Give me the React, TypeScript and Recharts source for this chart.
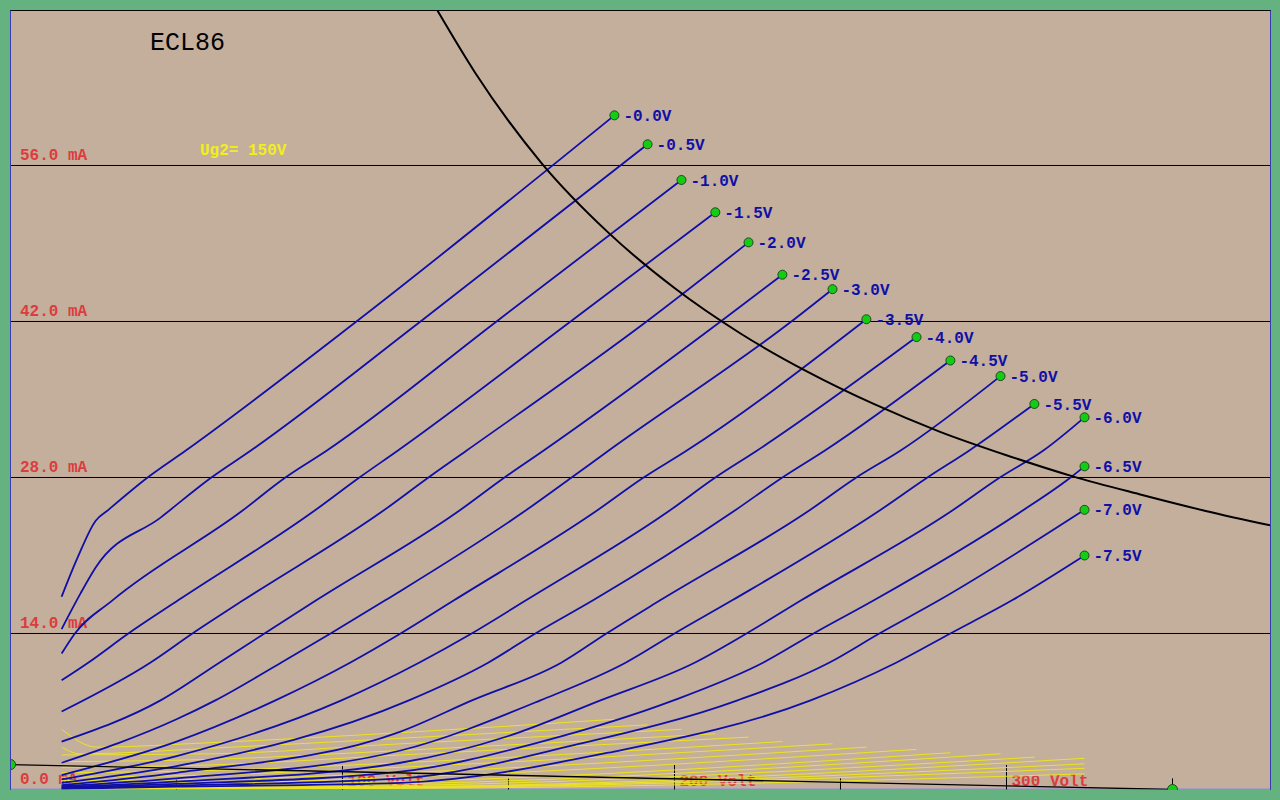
import React from 'react'
import { LineChart, Line, XAxis, YAxis, ReferenceLine, ReferenceDot } from 'recharts'

// grid voltage of each curve, top to bottom
const GRID_LABELS = [
  '-0.0V', '-0.5V', '-1.0V', '-1.5V', '-2.0V', '-2.5V', '-3.0V', '-3.5V',
  '-4.0V', '-4.5V', '-5.0V', '-5.5V', '-6.0V', '-6.5V', '-7.0V', '-7.5V',
]

// anode current curves: [Ua (V), Ia (mA)]
const IA_00 = [[15.4, 17.3], [20.2, 20.8], [25.6, 24.1], [29.5, 25.1], [41.3, 28], [52.7, 30.4], [104.2, 42], [181.9, 60.5]]
const IA_05 = [[15.4, 14.4], [21.1, 17.6], [25.6, 19.9], [45.2, 24.4], [60.5, 28], [72.3, 30.4], [123.5, 42], [191.9, 57.9]]
const IA_10 = [[15.4, 12.2], [19.4, 14], [30.8, 17], [69.3, 24.9], [82.8, 28], [95.2, 30.4], [146.4, 42], [202.1, 54.7]]
const IA_15 = [[15.4, 9.8], [23.5, 11.4], [35.5, 14], [50.6, 17], [91, 24.9], [105.1, 28], [116.6, 30.4], [168.7, 42], [212.3, 51.8]]
const IA_20 = [[15.4, 7.0], [42.2, 11.4], [54.8, 14], [70.2, 17], [111.7, 24.9], [125.9, 28], [137.3, 30.4], [191.6, 42], [222.3, 49.1]]
const IA_25 = [[15.4, 4.3], [45.2, 8], [63, 11.4], [76.5, 14], [92.2, 17], [134.6, 24.9], [148.8, 28], [160.5, 30.4], [213.9, 42], [232.5, 46.2]]
const IA_30 = [[15.4, 2.4], [50, 6.3], [61.7, 8], [81.6, 11.4], [96.4, 14], [113, 17], [154.5, 24.9], [169, 28], [180.1, 30.4], [235.2, 42], [247.6, 44.9]]
const IA_35 = [[15.4, 1.3], [50, 4.3], [79.8, 8], [102.4, 11.4], [117.5, 14], [133.7, 17], [176, 24.9], [190.7, 28], [203.6, 30.4], [257.8, 42.2]]
const IA_40 = [[15.4, 0.9], [50, 3.0], [99.7, 8], [123.2, 11.4], [138.9, 14], [155.4, 17], [197.9, 24.9], [212.3, 28], [224.8, 30.4], [272.9, 40.6]]
const IA_45 = [[15.4, 0.6], [50, 2.1], [120, 8], [144, 11.4], [158.1, 14], [175.6, 17], [217.5, 24.9], [232.5, 28], [245.2, 30.4], [283.1, 38.5]]
const IA_50 = [[15.4, 0.4], [50, 1.5], [117.5, 5.2], [139, 8], [166, 11.4], [179.5, 14], [195.8, 17], [239.9, 24.9], [254.8, 28], [268, 30.4], [298.2, 37.1]]
const IA_55 = [[15.4, 0.3], [50, 1.0], [117.5, 3.5], [159.6, 8], [185.4, 11.4], [200, 14], [217.5, 17], [261.1, 24.9], [276.2, 28], [288.7, 30.4], [308.4, 34.6]]
const IA_60 = [[15.4, 0.2], [50, 0.7], [117.5, 2.4], [150, 4.8], [177.7, 8], [206.2, 11.4], [221.7, 14], [238.3, 17], [283, 24.9], [298, 28], [311, 30.4], [323.5, 33.4]]
const IA_65 = [[15.4, 0.15], [50, 0.5], [117.5, 1.6], [160, 4.3], [199.7, 8], [226.8, 11.4], [241.9, 14], [260.2, 17], [304.2, 24.9], [319.3, 28], [323.5, 29.0]]
const IA_70 = [[15.4, 0.1], [50, 0.35], [117.5, 1.0], [170, 4.0], [219, 8], [246.7, 11.4], [261.7, 14], [279.8, 17], [323.5, 25.1]]
const IA_75 = [[15.4, 0.05], [50, 0.25], [117.5, 0.6], [180, 3.3], [241, 8], [266.9, 11.4], [283.1, 14], [301.8, 17], [323.5, 21.0]]

// screen grid current curves: [Ua (V), Ig2 (mA)]
const IG_00 = [[15.4, 5.4], [26, 3.8], [60, 4.2], [117.5, 5.1], [181.9, 6.3]]
const IG_05 = [[15.4, 3.8], [21, 3.2], [60, 3.7], [117.5, 4.6], [191.9, 5.8]]
const IG_10 = [[15.4, 3.1], [60, 3.2], [117.5, 4.1], [202.1, 5.4]]
const IG_15 = [[15.4, 2.5], [60, 2.7], [117.5, 3.5], [212.3, 5.0]]
const IG_20 = [[15.4, 2.0], [60, 2.2], [117.5, 3.1], [222.3, 4.7]]
const IG_25 = [[15.4, 1.5], [60, 1.7], [117.5, 2.4], [232.5, 4.3]]
const IG_30 = [[15.4, 1.1], [60, 1.3], [117.5, 2.0], [247.6, 4.1]]
const IG_35 = [[15.4, 0.8], [60, 0.9], [117.5, 1.5], [257.8, 3.8]]
const IG_40 = [[15.4, 0.6], [60, 0.6], [117.5, 1.1], [272.9, 3.6]]
const IG_45 = [[15.4, 0.4], [60, 0.4], [117.5, 0.7], [283.1, 3.3]]
const IG_50 = [[15.4, 0.3], [60, 0.3], [117.5, 0.5], [298.2, 3.2]]
const IG_55 = [[15.4, 0.2], [60, 0.2], [117.5, 0.35], [308.4, 2.9]]
const IG_60 = [[15.4, 0.15], [117.5, 0.25], [323.5, 2.8]]
const IG_65 = [[15.4, 0.1], [117.5, 0.2], [323.5, 2.3]]
const IG_70 = [[15.4, 0.05], [117.5, 0.15], [323.5, 1.9]]
const IG_75 = [[15.4, 0.05], [117.5, 0.1], [323.5, 1.4]]

const ANODE_CURVES = [IA_00, IA_05, IA_10, IA_15, IA_20, IA_25, IA_30, IA_35, IA_40, IA_45, IA_50, IA_55, IA_60, IA_65, IA_70, IA_75]
const SCREEN_CURVES = [IG_00, IG_05, IG_10, IG_15, IG_20, IG_25, IG_30, IG_35, IG_40, IG_45, IG_50, IG_55, IG_60, IG_65, IG_70, IG_75]

// max dissipation hyperbola
const PMAX_V = [128.6, 140, 160, 180, 200, 220, 240, 260, 280, 300, 320, 340, 360, 379.5]
const PMAX_I = [69.9, 64.3, 56.2, 50.0, 45.0, 40.9, 37.5, 34.6, 32.1, 30.0, 28.1, 26.5, 25.0, 23.7]

// load line
const LOAD_V = [0, 350]
const LOAD_I = [2.24, 0]

const Y_TICKS = [0, 14, 28, 42, 56]
const Y_TICK_LABELS = ['0.0 mA', '14.0 mA', '28.0 mA', '42.0 mA', '56.0 mA']
const X_TICKS = [50, 100, 150, 200, 250, 300, 350]
const X_MAJOR = [100, 200, 300]
const X_MAJOR_LABELS = ['100 Volt', '200 Volt', '300 Volt']

const BG = '#C4AE9C'
const FRAME = '#63B27F'
const CURVE = '#1010A8'
const SCREEN = '#ECE41E'
const RED = '#DC3C3C'
const DOT = '#14CC14'
const MONO = '"Liberation Mono", monospace'

const toPts = (arr: number[][]) => arr.map(([v, i]) => ({ v, i }))

function AxisText({ viewBox, text, dx = 0, dy = 0, fromBottom = false }: any) {
  const vb = viewBox || {}
  const x = vb.x ?? Math.min(vb.x1 ?? 0, vb.x2 ?? 0)
  const top = vb.y ?? Math.min(vb.y1 ?? 0, vb.y2 ?? 0)
  const h = vb.height ?? Math.abs((vb.y2 ?? 0) - (vb.y1 ?? 0))
  const y = fromBottom ? top + h : top
  return (
    <text x={x + dx} y={y + dy} fill={RED} fontSize={16} fontWeight="bold" fontFamily={MONO}>
      {text}
    </text>
  )
}

export default function App() {
  const pmax = PMAX_V.map((v, k) => ({ v, i: PMAX_I[k] }))
  const load = LOAD_V.map((v, k) => ({ v, i: LOAD_I[k] }))

  return (
    <div style={{ position: 'fixed', left: 0, top: 0, width: 1280, height: 800, background: FRAME }}>
      <div style={{ position: 'absolute', left: 10, top: 10, width: 1260, height: 780, background: BG }}>
        <LineChart width={1260} height={780} margin={{ top: 0.5, right: 0, bottom: 0.5, left: 0.5 }}>
          <XAxis type="number" dataKey="v" domain={[0, 379.37]} hide allowDataOverflow />
          <YAxis type="number" dataKey="i" domain={[0, 69.91]} hide allowDataOverflow />

          {Y_TICKS.map((t, k) => (
            <ReferenceLine
              key={'gy' + t}
              y={t}
              stroke={t === 0 ? '#8C8CDC' : '#000'}
              strokeWidth={t === 0 ? 2 : 1}
              label={<AxisText text={Y_TICK_LABELS[k]} dx={9.5} dy={-5.5} />}
            />
          ))}
          {X_TICKS.map((t) => (
            <ReferenceLine
              key={'tx' + t}
              segment={[{ x: t, y: 0 }, { x: t, y: X_MAJOR.includes(t) ? 2.2 : 1 }]}
              stroke="#000"
            />
          ))}
          {X_MAJOR.map((t, k) => (
            <ReferenceLine
              key={'lx' + t}
              x={t}
              stroke="none"
              label={<AxisText text={X_MAJOR_LABELS[k]} dx={5} dy={-4} fromBottom />}
            />
          ))}

          {SCREEN_CURVES.map((c, k) => (
            <Line
              key={'g2' + k}
              data={toPts(c)}
              dataKey="i"
              type="monotone"
              stroke={SCREEN}
              strokeWidth={1}
              dot={false}
              activeDot={false}
              isAnimationActive={false}
            />
          ))}
          {ANODE_CURVES.map((c, k) => (
            <Line
              key={'ia' + k}
              data={toPts(c)}
              dataKey="i"
              type="monotone"
              stroke={CURVE}
              strokeWidth={1.8}
              dot={false}
              activeDot={false}
              isAnimationActive={false}
            />
          ))}
          <Line data={pmax} dataKey="i" type="monotone" stroke="#000" strokeWidth={2} dot={false} activeDot={false} isAnimationActive={false} />
          <Line data={load} dataKey="i" type="linear" stroke="#000" strokeWidth={1.3} dot={false} activeDot={false} isAnimationActive={false} />

          {ANODE_CURVES.map((c, k) => {
            const last = c[c.length - 1]
            return (
              <ReferenceDot
                key={'end' + k}
                x={last[0]}
                y={last[1]}
                r={4.5}
                fill={DOT}
                stroke="#1E4A1E"
                strokeWidth={1}
                label={{
                  value: GRID_LABELS[k],
                  position: 'right',
                  offset: 4.5,
                  fill: CURVE,
                  fontSize: 16,
                  fontWeight: 'bold',
                  fontFamily: MONO,
                }}
              />
            )
          })}
          {LOAD_V.map((v, k) => (
            <ReferenceDot key={'ld' + k} x={v} y={LOAD_I[k]} r={5} fill={DOT} stroke="#1E4A1E" strokeWidth={1} />
          ))}
        </LineChart>
        <svg width={1260} height={780} style={{ position: 'absolute', left: 0, top: 0, pointerEvents: 'none' }}>
          <text x={140} y={40} fontSize={25} fontFamily={MONO} fill="#000">ECL86</text>
          <text x={190} y={145} fontSize={16} fontWeight="bold" fontFamily={MONO} fill="#F2EE1E">Ug2= 150V</text>
        </svg>
      </div>
      <div
        style={{
          position: 'absolute',
          left: 10,
          top: 10,
          width: 1261,
          height: 780,
          boxSizing: 'border-box',
          borderTop: '1px solid #000',
          borderLeft: '1px solid #3A3AB8',
          borderRight: '1px solid #3A3AB8',
          pointerEvents: 'none',
        }}
      />
    </div>
  )
}
